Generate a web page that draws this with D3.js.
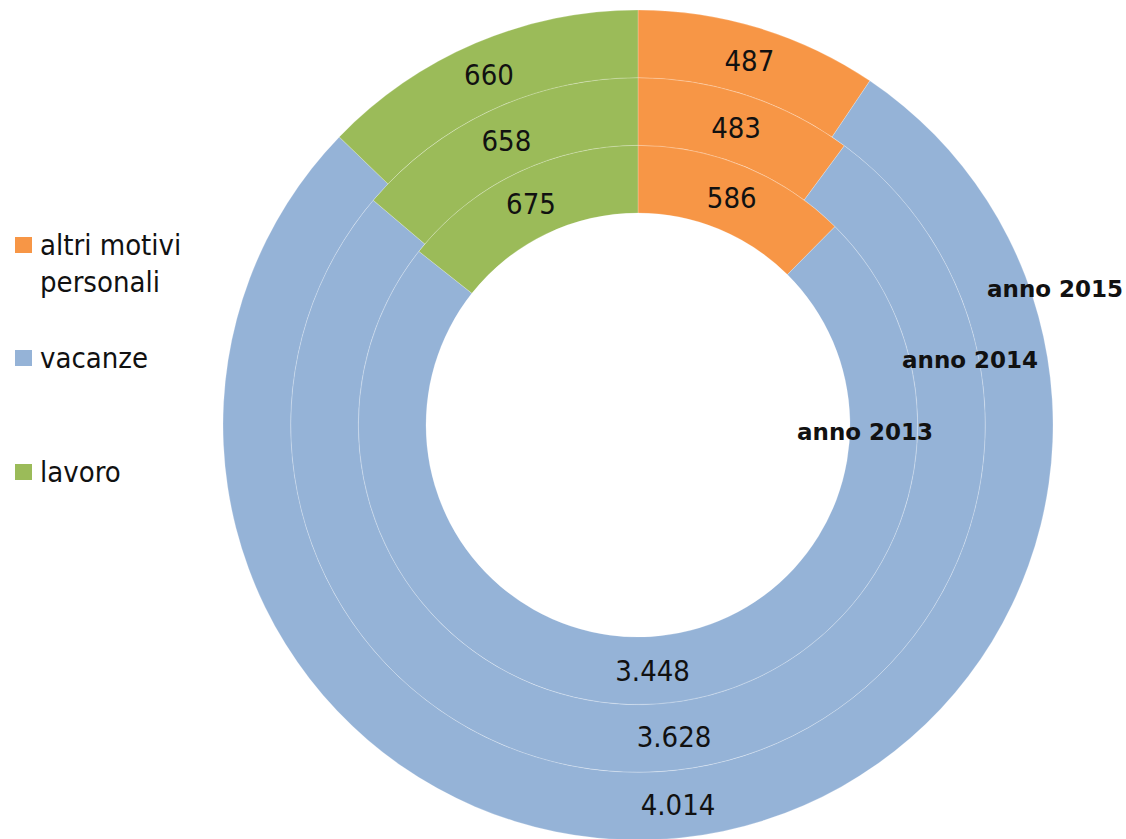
<!DOCTYPE html>
<html>
<head>
<meta charset="utf-8">
<script src="https://cdn.jsdelivr.net/npm/d3@7/dist/d3.min.js"></script>
<style>
html,body{margin:0;padding:0;background:#fff;}
svg{display:block;}
</style>
</head>
<body>
<svg id="chart" width="1126" height="839"></svg>
<script>
// ---- data ----
const categories = ["altri motivi personali", "vacanze", "lavoro"];
const years = ["anno 2013", "anno 2014", "anno 2015"];
const altriMotivi = [586, 483, 487];
const vacanze = [3448, 3628, 4014];
const lavoro = [675, 658, 660];

// ---- layout ----
const W = 1126, H = 839;
const cx = 638, cy = 425;
const rInner = 212, rOuter = 415;
const colors = ["#F79646", "#95B3D7", "#9BBB59"];
const yearLabelPos = [[797, 440], [902, 368], [987, 297]]; // start x, baseline y

const svg = d3.select("#chart");
const g = svg.append("g").attr("transform", `translate(${cx},${cy})`);

const ringScale = d3.scaleLinear().domain([0, years.length]).range([rInner, rOuter]);
const color = d3.scaleOrdinal().domain(categories).range(colors);
const fmt = d3.formatLocale({decimal: ",", thousands: ".", grouping: [3], currency: ["€", ""]}).format(",d");

const pie = d3.pie().sort(null).value(d => d.value);

years.forEach((yr, i) => {
  const data = [
    {cat: categories[0], value: altriMotivi[i]},
    {cat: categories[1], value: vacanze[i]},
    {cat: categories[2], value: lavoro[i]}
  ];
  const r0 = ringScale(i), r1 = ringScale(i + 1);
  const arc = d3.arc().innerRadius(r0).outerRadius(r1);
  const labelArc = d3.arc().innerRadius((r0 + r1) / 2).outerRadius((r0 + r1) / 2);
  const arcs = pie(data);
  const ring = g.append("g");
  ring.selectAll("path").data(arcs).enter().append("path")
    .attr("d", arc)
    .attr("fill", d => color(d.data.cat))
    .attr("stroke", "rgba(255,255,255,0.22)")
    .attr("stroke-width", 1);
  ring.selectAll("text").data(arcs).enter().append("text")
    .attr("transform", d => `translate(${labelArc.centroid(d)})`)
    .attr("text-anchor", "middle")
    .attr("dy", "0.36em")
    .attr("font-family", "'DejaVu Sans Condensed', 'DejaVu Sans', sans-serif")
    .attr("font-stretch", "condensed")
    .attr("font-size", 29)
    .attr("fill", "#111")
    .text(d => fmt(d.data.value));
});

// year labels
svg.selectAll("text.year").data(years).enter().append("text")
  .attr("class", "year")
  .attr("x", (d, i) => yearLabelPos[i][0])
  .attr("y", (d, i) => yearLabelPos[i][1])
  .attr("font-family", "'DejaVu Sans', sans-serif")
  .attr("font-weight", "bold")
  .attr("font-size", 23)
  .attr("fill", "#111")
  .text(d => d);

// legend
const legendItems = [
  {cat: categories[0], lines: ["altri motivi", "personali"], y: 255},
  {cat: categories[1], lines: ["vacanze"], y: 368},
  {cat: categories[2], lines: ["lavoro"], y: 482}
];
const lg = svg.append("g");
legendItems.forEach(it => {
  lg.append("rect").attr("x", 15).attr("y", it.y - 18).attr("width", 17).attr("height", 16)
    .attr("fill", color(it.cat));
  const t = lg.append("text")
    .attr("font-family", "'DejaVu Sans Condensed', 'DejaVu Sans', sans-serif")
    .attr("font-stretch", "condensed")
    .attr("font-size", 29)
    .attr("fill", "#111");
  it.lines.forEach((ln, k) => {
    t.append("tspan").attr("x", 40).attr("y", it.y + k * 37).text(ln);
  });
});
</script>
</body>
</html>
